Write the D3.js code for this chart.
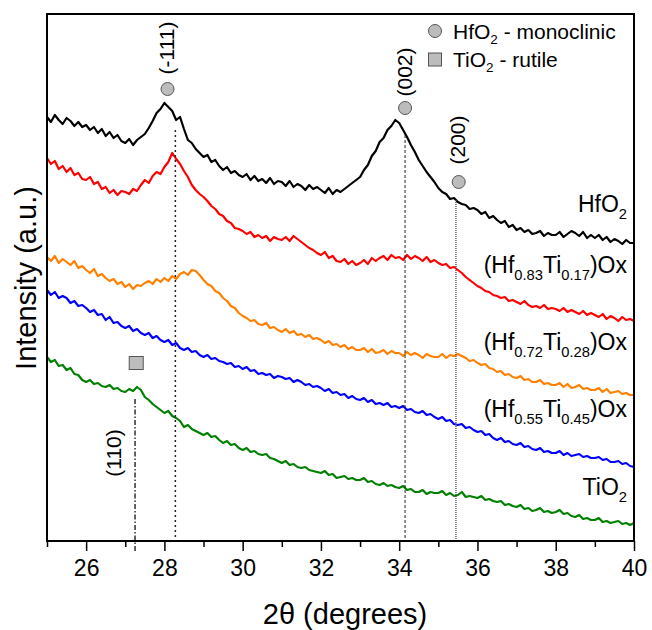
<!DOCTYPE html>
<html><head><meta charset="utf-8">
<script src="https://cdn.jsdelivr.net/npm/d3@7"></script>
<style>
body{margin:0;background:#fff}
svg{display:block}
text{font-family:"Liberation Sans",Arial,sans-serif;fill:#000}
</style>
</head><body>
<svg id="chart" width="652" height="630"></svg>
<script>
// 2θ sampling grid of the measured patterns
const angleStart = 25, angleStep = 0.1;

// Intensity (a.u., stacked/offset), 25.0° … 40.0° every 0.1°
const hfo2 = [
424,419,426,421,417,423,420,415,419,414,
416,411,414,408,412,405,409,403,406,400,
398,402,396,401,404,407,413,420,428,432,
438,434,430,421,424,412,401,398,392,388,
384,386,379,381,375,371,374,368,370,366,
364,367,361,365,360,362,358,363,357,360,
359,355,360,354,357,355,351,356,352,354,
351,348,353,347,351,349,352,355,358,361,
364,371,376,385,390,399,403,411,415,421,
418,411,404,396,389,381,375,369,364,359,
353,349,347,342,343,339,337,336,332,333,
331,327,329,323,325,321,318,320,314,316,
311,313,309,311,307,308,310,305,308,306,
306,309,304,307,310,308,305,309,303,306,
303,306,301,304,299,302,300,297,301,298,
298];
const hf083 = [
383,377,380,372,375,369,373,366,368,362,
361,364,357,359,352,354,348,351,346,350,
349,347,352,350,356,361,358,365,369,367,
374,379,388,382,377,370,364,356,351,347,
344,340,335,332,327,325,320,318,313,312,
310,307,309,304,306,303,305,300,304,302,
301,304,300,305,302,299,296,293,291,288,
286,289,283,285,280,279,282,277,280,276,
278,281,277,283,280,283,285,281,286,283,
284,281,286,282,285,283,280,284,279,281,
278,276,277,273,274,271,268,264,261,258,
255,253,250,249,246,245,243,244,240,241,
239,237,240,236,234,235,233,236,232,233,
232,230,233,229,231,229,227,230,226,228,
226,224,227,222,225,223,220,224,221,222,
220];
const hf072 = [
284,280,285,278,282,279,276,280,273,275,
271,268,272,265,267,263,260,262,257,259,
254,257,252,256,255,258,260,257,262,259,
263,260,265,262,267,269,266,271,270,266,
261,257,255,250,248,243,240,235,233,228,
225,223,220,221,217,216,218,213,214,211,
209,212,208,210,206,207,204,206,202,203,
201,198,200,196,197,194,196,192,194,191,
191,193,189,192,188,189,191,187,190,188,
188,185,189,186,188,186,183,187,185,184,
184,187,183,186,185,187,185,183,180,181,
178,176,177,173,172,169,170,166,167,164,
163,165,161,162,159,159,161,157,158,156,
156,158,154,157,153,154,156,152,153,151,
151,153,149,152,148,149,150,147,148,146,
146];
const hf055 = [
251,246,249,243,245,243,238,240,235,236,
233,229,231,226,227,221,224,218,219,215,
213,215,210,212,208,206,208,203,205,201,
199,201,196,198,193,191,193,189,190,186,
184,186,182,183,180,179,177,178,174,175,
172,174,170,171,167,168,166,167,163,165,
164,162,163,159,161,159,156,157,154,155,
153,150,152,148,149,146,147,143,145,142,
141,143,139,141,137,138,136,138,134,135,
133,135,131,132,129,128,130,126,127,124,
122,124,120,121,117,116,117,113,114,111,
109,110,106,107,103,101,103,99,100,97,
96,98,94,95,92,91,93,89,90,88,
88,90,86,88,85,86,87,84,85,83,
83,84,81,82,79,79,80,77,78,75,
74];
const tio2 = [
184,179,181,175,176,171,173,167,166,161,
159,161,157,158,155,154,156,152,153,150,
149,152,150,154,151,144,141,137,134,131,
128,130,125,123,120,114,116,112,110,108,
106,108,104,105,101,98,100,96,97,93,
91,93,89,90,87,86,87,83,82,80,
78,80,76,77,74,73,74,71,70,69,
68,70,66,67,63,64,65,62,63,61,
61,63,59,60,57,56,58,55,56,54,
53,55,51,52,49,49,51,47,49,48,
48,50,46,48,45,46,49,44,45,44,
43,45,41,42,40,39,40,36,37,35,
34,36,32,33,30,31,33,29,30,28,
29,31,27,28,25,24,26,22,23,21,
21,23,19,20,18,19,20,17,18,16,
18];

const seriesColors = ["#000000", "#ff0000", "#ff8000", "#0000ff", "#008000"];
const seriesValues = [hfo2, hf083, hf072, hf055, tio2];
// curve labels: parts [text, isSubscript]
const seriesLabels = [
  [["HfO",0],["2",1]],
  [["(Hf",0],["0.83",1],["Ti",0],["0.17",1],[")Ox",0]],
  [["(Hf",0],["0.72",1],["Ti",0],["0.28",1],[")Ox",0]],
  [["(Hf",0],["0.55",1],["Ti",0],["0.45",1],[")Ox",0]],
  [["TiO",0],["2",1]]
];
const labelBaselines = [212, 273, 350, 417, 495];

const majorTicks = [26, 28, 30, 32, 34, 36, 38, 40];
const minorTicks = [25, 27, 29, 31, 33, 35, 37, 39];

// reflection markers: position (2θ), marker height (a.u.), label
const hfPeakAngles = [28.08, 34.15, 35.52];
const hfPeakHeights = [452, 433, 359];
const hfPeakLabels = ["(-111)", "(002)", "(200)"];
const tiPeakAngles = [27.28];
const tiPeakHeights = [178];
const tiPeakLabels = ["(110)"];
// reference drop lines: angle, top (a.u.), bottom (a.u.)
const dropAngles = [28.28, 34.15, 35.45, 27.25];
const dropTops = [411, 406, 341, 142];
const dropBottoms = [0, 0, 0, -11];

const W = 652, H = 630;
const m = {left: 47, right: 18, top: 14, bottom: 89};
const svg = d3.select("#chart");
const x = d3.scaleLinear().domain([25, 40]).range([m.left, W - m.right]);
const y = d3.scaleLinear().domain([0, 527]).range([H - m.bottom, m.top]);

// curves
const line = d3.line()
  .x((d, i) => x(angleStart + i * angleStep))
  .y(d => y(d));
seriesValues.forEach((vals, k) => {
  svg.append("path").datum(vals)
    .attr("d", line)
    .attr("fill", "none")
    .attr("stroke", seriesColors[k])
    .attr("stroke-width", 2.2)
    .attr("stroke-linejoin", "round");
});

// drop lines
const dashes = ["2,3", "3,2", "1,1", "5,2,1.5,2"];
const dropColors = ["#222", "#222", "#555", "#222"];
const dropWidths = [1.5, 1, 1.4, 1.4];
dropAngles.forEach((a, i) => {
  svg.append("line")
    .attr("x1", x(a)).attr("x2", x(a))
    .attr("y1", y(dropTops[i])).attr("y2", y(dropBottoms[i]))
    .attr("stroke", dropColors[i])
    .attr("stroke-width", dropWidths[i])
    .attr("stroke-dasharray", dashes[i]);
});

// axes
const gx = svg.append("g").attr("transform", `translate(0,${H - m.bottom})`);
gx.call(d3.axisBottom(x).tickValues(majorTicks).tickSize(10).tickPadding(9).tickFormat(d3.format("d")));
gx.select(".domain").remove();
gx.selectAll(".tick line").attr("stroke", "#000").attr("stroke-width", 1.5);
gx.selectAll(".tick text").attr("font-size", 23).attr("font-family", '"Liberation Sans",Arial,sans-serif');
const gm = svg.append("g").attr("transform", `translate(0,${H - m.bottom})`);
gm.call(d3.axisBottom(x).tickValues(minorTicks).tickSize(6).tickFormat(""));
gm.select(".domain").remove();
gm.selectAll(".tick line").attr("stroke", "#000").attr("stroke-width", 1.5);

// frame
svg.append("rect")
  .attr("x", m.left).attr("y", m.top)
  .attr("width", W - m.left - m.right).attr("height", H - m.top - m.bottom)
  .attr("fill", "none").attr("stroke", "#000").attr("stroke-width", 2);

// axis titles
svg.append("text").attr("x", 345).attr("y", 624)
  .attr("text-anchor", "middle").attr("font-size", 29).text("2θ (degrees)");
svg.append("text").attr("transform", "translate(36,278) rotate(-90)")
  .attr("text-anchor", "middle").attr("font-size", 29).text("Intensity (a.u.)");

// rich text helper
function rich(g, xx, yy, parts, size, anchor, shift) {
  const sh = shift === undefined ? 0.32 : shift;
  const t = g.append("text").attr("x", xx).attr("y", yy)
    .attr("font-size", size).attr("text-anchor", anchor);
  let inSub = false;
  parts.forEach(([s, sub]) => {
    const ts = t.append("tspan").text(s);
    if (sub && !inSub) { ts.attr("dy", size * sh).attr("font-size", size * 0.64); inSub = true; }
    else if (sub) { ts.attr("font-size", size * 0.64); }
    else if (!sub && inSub) { ts.attr("dy", -size * sh); inSub = false; }
  });
  return t;
}

// curve labels
seriesLabels.forEach((parts, k) => {
  rich(svg, 627, labelBaselines[k], parts, 23, "end");
});

// markers
const markFill = "#bcbcbc", markStroke = "#555";
const labelOffsets = [41, 36, 42];
hfPeakAngles.forEach((a, i) => {
  svg.append("circle").attr("cx", x(a)).attr("cy", y(hfPeakHeights[i])).attr("r", 6.5)
    .attr("fill", markFill).attr("stroke", markStroke).attr("stroke-width", 1);
  svg.append("text")
    .attr("transform", `translate(${x(a) - 1},${y(hfPeakHeights[i]) - labelOffsets[i]}) rotate(-90)`)
    .attr("text-anchor", "middle").attr("dominant-baseline", "central")
    .attr("font-size", 21).text(hfPeakLabels[i]);
});
tiPeakAngles.forEach((a, i) => {
  svg.append("rect").attr("x", x(a) - 7).attr("y", y(tiPeakHeights[i]) - 6.5)
    .attr("width", 14).attr("height", 13)
    .attr("fill", markFill).attr("stroke", markStroke).attr("stroke-width", 1);
  svg.append("text")
    .attr("transform", `translate(113,453) rotate(-90)`)
    .attr("text-anchor", "middle").attr("dominant-baseline", "central")
    .attr("font-size", 21).text(tiPeakLabels[i]);
});

// legend
const lg = svg.append("g");
lg.append("circle").attr("cx", 435).attr("cy", 31).attr("r", 6.5)
  .attr("fill", markFill).attr("stroke", markStroke);
rich(lg, 453, 39, [["HfO",0],["2",1],[" - monoclinic",0]], 21, "start", 0.22);
lg.append("rect").attr("x", 428.5).attr("y", 53).attr("width", 13).attr("height", 13)
  .attr("fill", markFill).attr("stroke", markStroke);
rich(lg, 453, 67, [["TiO",0],["2",1],[" - rutile",0]], 21, "start", 0.22);
</script>
</body></html>
